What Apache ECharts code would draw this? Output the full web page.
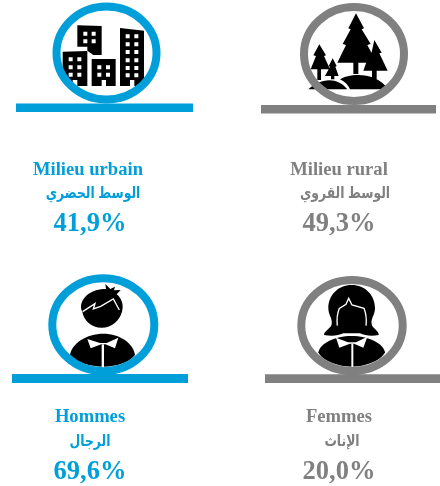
<!DOCTYPE html>
<html>
<head>
<meta charset="utf-8">
<style>
  html, body { margin: 0; padding: 0; background: #fff; }
  #main { width: 440px; height: 486px; }
</style>
<script src="https://cdn.jsdelivr.net/npm/echarts@6/dist/echarts.min.js"></script>
</head>
<body>
<div id="main"></div>
<script>
  // textes et valeurs
  const labelsFr = ['Milieu urbain', 'Milieu rural', 'Hommes', 'Femmes'];
  const labelsAr = ['الوسط الحضري', 'الوسط القروي', 'الرجال', 'الإناث'];
  const values = [41.9, 49.3, 69.6, 20.0];

  const BLUE = '#009fda';
  const GREY = '#808080';
  const colors = [BLUE, GREY, BLUE, GREY];

  // position de chaque panneau
  const rings = [
    { cx: 106.5, cy: 53, rx: 50, ry: 46.5 },
    { cx: 354, cy: 54, rx: 50, ry: 47 },
    { cx: 103.3, cy: 324.7, rx: 51, ry: 46.5 },
    { cx: 352, cy: 325.5, rx: 50.7, ry: 45.5 }
  ];
  const bars = [
    { x: 16, y: 103.5, w: 177, h: 8.5 },
    { x: 261, y: 105, w: 175, h: 8.5 },
    { x: 12, y: 374, w: 176, h: 9 },
    { x: 265, y: 374.3, w: 175, h: 8.7 }
  ];
  const textX = [[88, 93, 90], [339, 345, 339], [90, 90, 90], [339, 342, 339]];
  const textY = [[170, 194, 224], [170, 194, 224], [417, 442, 472], [417, 442, 472]];

  function rectPath(x, y, w, h) {
    return 'M' + x + ',' + y + 'H' + (x + w) + 'V' + (y + h) + 'H' + x + 'Z';
  }
  // fenetres d'un immeuble (blanc)
  function windows(xs, ys) {
    let d = '';
    xs.forEach(x => ys.forEach(y => { d += rectPath(x, y, 12, 12); }));
    return d;
  }

  // icones dessinees en coordonnees "zoom x3"
  function cityIcon() {
    const black = 'M232,76L305,78V165H280L262,152V140H232Z' +
      'M188,155L262,153V258H232V240H218V258H208L188,225Z' +
      'M275,177H347V258H318V240H305V258H275Z' +
      'M360,84L432,92V258H403V240H390V258H360Z';
    const white = windows([250, 275], [95, 118]) +
      windows([206, 232], [172, 196, 218]) +
      windows([292, 318], [196, 218]) +
      windows([377, 403], [103, 127, 150, 175, 198, 220]);
    return [
      { type: 'path', shape: { pathData: black }, style: { fill: '#000' } },
      { type: 'path', shape: { pathData: white }, style: { fill: '#fff' } }
    ];
  }
  function treeIcon() {
    const trees = 'M408,40L432,85L425,88L452,132L442,135L470,188H415V222H400V188H352L378,135L368,132L392,88L385,85Z' +
      'M463,120L485,158L478,160L503,212H470V238H456V212H430L445,170H452Z' +
      'M298,133L318,166L312,168L330,208H303V240H292V208H272L288,168L280,166Z' +
      'M338,175L350,198L346,200L356,228H343V238H333V228H315L330,200L326,198Z';
    const hills = 'M360,238C390,218 470,215 505,268H390C385,255 375,245 360,238Z' +
      'M265,268C295,238 350,225 382,268Z';
    return [
      { type: 'path', shape: { pathData: trees }, style: { fill: '#000' } },
      { type: 'path', shape: { pathData: hills }, style: { fill: '#000' } }
    ];
  }
  function manIcon() {
    const head = 'M243,125C245,95 275,72 318,72L316,57L331,72L345,65L342,76L362,75L350,88C365,100 372,120 366,140' +
      'C360,165 335,188 305,188C275,188 250,165 247,140C244,135 243,130 243,125Z';
    const body = 'M210,270C215,235 260,206 310,206C360,206 400,235 405,270C388,292 350,305 310,305C270,305 228,292 210,270Z';
    const bow = 'M262,222L300,234H320L355,218L345,250L316,238H304L272,250Z';
    return [
      { type: 'path', shape: { pathData: head }, style: { fill: '#000' } },
      { type: 'path', shape: { pathData: 'M248,140L285,116L280,132L302,124L340,102L358,135' }, style: { fill: 'none', stroke: '#fff', lineWidth: 4 } },
      { type: 'path', shape: { pathData: body }, style: { fill: '#000' } },
      { type: 'path', shape: { pathData: bow }, style: { fill: '#fff' } },
      { type: 'rect', shape: { x: 305, y: 238, width: 7, height: 68 }, style: { fill: '#fff' } }
    ];
  }
  function womanIcon() {
    const hair = 'M395,60C435,60 465,90 465,130C465,150 452,160 455,178C458,192 478,198 476,210C455,214 435,212 420,205H370C355,212 335,214 312,210' +
      'C312,198 332,192 335,178C338,160 325,150 325,130C325,90 355,60 395,60Z';
    const line = 'M352,182C350,165 352,145 358,130L378,118L386,100L396,120L432,130C438,145 440,165 438,182';
    const body = 'M295,262C300,235 345,213 395,213C445,213 490,235 495,262C485,285 440,305 395,305C350,305 305,285 295,262Z';
    const bow = 'M348,218L384,232H408L442,215L430,248L402,236H390L358,248Z';
    return [
      { type: 'path', shape: { pathData: hair }, style: { fill: '#000' } },
      { type: 'path', shape: { pathData: line }, style: { fill: 'none', stroke: '#fff', lineWidth: 4 } },
      { type: 'path', shape: { pathData: body }, style: { fill: '#000' } },
      { type: 'path', shape: { pathData: bow }, style: { fill: '#fff' } },
      { type: 'rect', shape: { x: 394, y: 236, width: 6, height: 70 }, style: { fill: '#fff' } }
    ];
  }
  const icons = [
    { x: 0, y: 0, children: cityIcon() },
    { x: 220, y: 0, children: treeIcon() },
    { x: 0, y: 265, children: manIcon() },
    { x: 220, y: 265, children: womanIcon() }
  ];

  function label(x, y, text, font, color, scaleY) {
    return { type: 'text', x: x, y: y, scaleY: scaleY || 1, style: { text: text, font: font, fill: color, textAlign: 'center', textVerticalAlign: 'middle' } };
  }

  // un panneau par valeur
  function renderPanel(params, api) {
    const i = params.dataIndex;
    const color = colors[i];
    return {
      type: 'group',
      children: [
        { type: 'group', x: icons[i].x, y: icons[i].y, scaleX: 1 / 3, scaleY: 1 / 3, children: icons[i].children },
        { type: 'ellipse', shape: { cx: rings[i].cx, cy: rings[i].cy, rx: rings[i].rx, ry: rings[i].ry }, style: { fill: 'none', stroke: color, lineWidth: 8 } },
        { type: 'rect', shape: { x: bars[i].x, y: bars[i].y, width: bars[i].w, height: bars[i].h }, style: { fill: color } },
        label(textX[i][0], textY[i][0], labelsFr[i], 'bold 18.6px "Liberation Serif"', color),
        label(textX[i][1], textY[i][1], labelsAr[i], 'bold 12.4px "Liberation Sans", "DejaVu Sans"', color, 1.25),
        label(textX[i][2], textY[i][2], api.value(0).toFixed(1).replace('.', ',') + '%', 'bold 26.5px "Liberation Serif"', color)
      ]
    };
  }

  let myChart = echarts.init(document.getElementById('main'));
  let option = {
    backgroundColor: '#fff',
    animation: false,
    series: [{
      type: 'custom',
      coordinateSystem: 'none',
      silent: true,
      renderItem: renderPanel,
      data: values
    }]
  };
  myChart.setOption(option);
</script>
</body>
</html>
